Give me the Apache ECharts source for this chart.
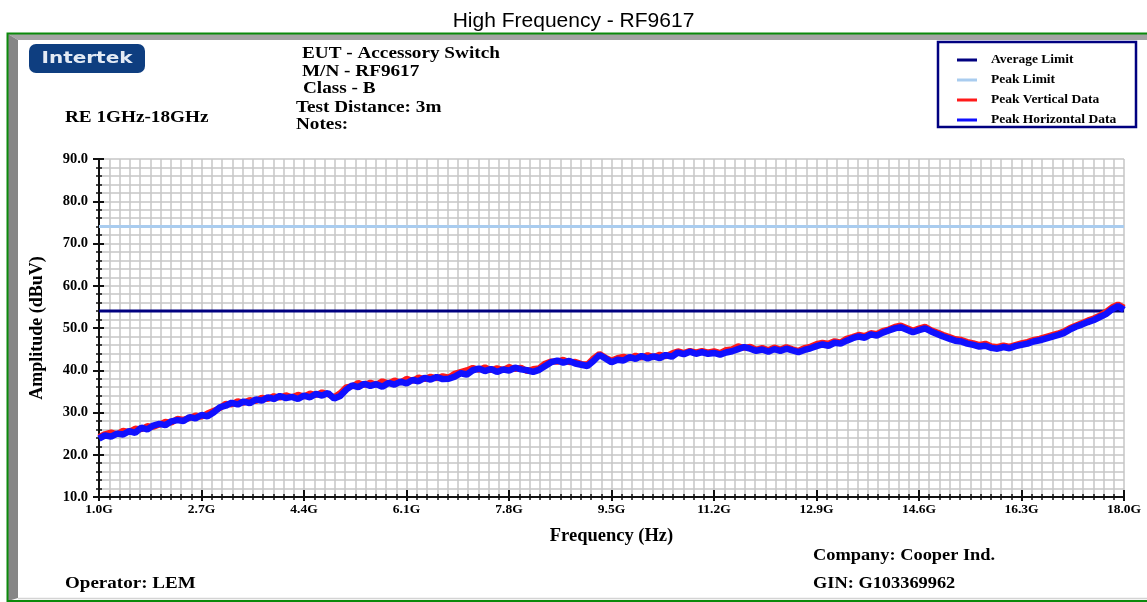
<!DOCTYPE html>
<html>
<head>
<meta charset="utf-8">
<title>High Frequency - RF9617</title>
<script src="https://cdn.jsdelivr.net/npm/echarts@6/dist/echarts.min.js"></script>
<style>
  html, body { margin: 0; padding: 0; background: #fff; }
  #chart { width: 1147px; height: 602px; }
</style>
</head>
<body>
<div id="chart"></div>
<script>
  // sweep: 1.0 GHz .. 18.0 GHz, one reading per 0.1 GHz
  const sweepStart = 1.0;
  const sweepStep = 0.1;

  // Peak Horizontal Data (dBuV)
  const peakHorizontal = [
    23.8, 24.6, 24.3, 25.0, 24.8, 25.6, 25.2, 26.4, 26.0, 26.9,
    27.3, 27.0, 27.9, 28.2, 28.0, 28.9, 28.6, 29.4, 29.1, 30.0,
    31.2, 31.6, 32.3, 31.9, 32.6, 32.2, 33.1, 32.8, 33.6, 33.2,
    33.9, 33.4, 33.7, 33.2, 34.0, 33.6, 34.4, 34.0, 34.6, 33.3,
    33.9, 35.4, 36.4, 36.0, 36.8, 36.3, 36.7, 36.1, 37.0, 36.6,
    37.3, 36.9, 37.7, 37.4, 38.2, 37.8, 38.4, 37.9, 38.0, 38.5,
    39.3, 39.0, 40.0, 40.4, 39.8, 40.3, 39.6, 40.2, 39.9, 40.6,
    40.2, 40.0, 39.6, 40.1, 41.0, 41.9, 42.3, 41.8, 42.2, 41.6,
    41.3, 41.0, 42.2, 43.6, 42.8, 41.9, 42.5, 42.3, 43.1, 42.7,
    43.4, 42.8, 43.3, 42.9, 43.6, 43.2, 44.2, 43.8, 44.4, 43.9,
    44.3, 43.9, 44.1, 43.7, 44.2, 44.5, 45.0, 45.5, 45.1, 44.6,
    44.9, 44.4, 45.0, 44.6, 45.1, 44.7, 44.3, 44.8, 45.2, 45.7,
    46.1, 45.8, 46.5, 46.3, 47.0, 47.6, 48.0, 47.7, 48.5, 48.2,
    48.9, 49.4, 49.9, 50.2, 49.6, 49.0, 49.5, 49.9, 49.2, 48.6,
    48.0, 47.5, 47.0, 46.8, 46.3, 46.0, 45.6, 45.8, 45.3, 45.1,
    45.5, 45.2, 45.7, 46.0, 46.3, 46.8, 47.1, 47.5, 47.9, 48.3,
    48.8, 49.6, 50.3, 50.8, 51.4, 51.9, 52.6, 53.3, 54.4, 55.2,
    54.3
  ];

  // Peak Vertical Data (dBuV)
  const peakVertical = [
    24.2, 24.9, 25.3, 24.9, 25.7, 25.4, 26.2, 26.0, 26.8, 26.6,
    27.1, 27.8, 27.6, 28.5, 28.3, 28.7, 29.3, 29.0, 29.8, 30.4,
    31.0, 32.1, 31.9, 32.7, 32.3, 33.0, 32.7, 33.5, 33.2, 33.9,
    33.5, 34.1, 33.6, 34.2, 33.8, 34.5, 34.1, 34.8, 34.3, 33.6,
    34.6, 36.0, 36.2, 37.0, 36.5, 37.1, 36.6, 37.4, 36.9, 37.6,
    37.1, 38.0, 37.5, 38.3, 37.9, 38.5, 38.1, 38.6, 38.3, 39.2,
    39.6, 40.0, 40.6, 40.1, 40.7, 40.0, 40.5, 40.1, 40.8, 40.3,
    40.6, 39.8, 40.3, 40.5, 41.6, 42.1, 42.0, 42.5, 41.9, 42.0,
    41.5, 41.4, 42.8, 43.9, 43.0, 42.3, 42.9, 43.2, 42.8, 43.5,
    43.0, 43.6, 43.1, 43.7, 43.3, 44.0, 44.5, 44.1, 44.6, 44.2,
    44.6, 44.2, 44.5, 44.1, 44.8, 45.0, 45.7, 45.3, 45.6, 44.9,
    45.3, 44.8, 45.4, 44.9, 45.5, 45.0, 44.6, 45.3, 45.6, 46.2,
    46.5, 46.3, 46.9, 46.6, 47.5, 47.9, 48.4, 48.1, 48.8, 48.6,
    49.3, 49.7, 50.3, 50.6, 50.0, 49.4, 49.9, 50.3, 49.5, 49.0,
    48.4, 47.9, 47.4, 47.2, 46.7, 46.4, 46.0, 46.3, 45.7, 45.5,
    45.9, 45.6, 46.0, 46.4, 46.7, 47.2, 47.5, 47.9, 48.3, 48.7,
    49.2, 50.0, 50.6, 51.2, 51.8, 52.3, 53.0, 53.8, 54.9, 55.6,
    54.8
  ];

  const averageLimit = 54;
  const peakLimit = 74;

  const freqTicks = ['1.0G', '2.7G', '4.4G', '6.1G', '7.8G', '9.5G', '11.2G', '12.9G', '14.6G', '16.3G', '18.0G'];

  // x axis runs in GHz above 1.0 so the 1.7 GHz interval starts at 0
  const toAxis = f => +(f - sweepStart).toFixed(2);
  const pairs = vals => vals.map((v, i) => [toAxis(sweepStart + i * sweepStep), v]);

  const SERIF = '"Liberation Serif", "DejaVu Serif", serif';
  const NAVY = '#000080';
  const GRID_COLOR = '#c6c6c6';

  const chart = echarts.init(document.getElementById('chart'), null, { renderer: 'canvas' });

  const xCommon = {
    type: 'value', min: 0, max: 17, interval: 1.7,
    axisLine: { show: true, onZero: false, lineStyle: { color: '#111', width: 2 } }
  };
  const yCommon = {
    type: 'value', min: 10, max: 90, interval: 10,
    axisLine: { show: true, onZero: false, lineStyle: { color: '#111', width: 2 } }
  };

  // the report text is a wide bold serif, so stretch it a little
  const label = (text, x, y, size, stretch) => ({
    type: 'text', x: x, y: y, scaleX: stretch,
    style: { text: text, fill: '#000', font: 'bold ' + size + 'px ' + SERIF, verticalAlign: 'middle' }
  });

  const option = {
    animation: false,
    backgroundColor: '#fff',
    title: {
      text: 'High Frequency - RF9617',
      left: 'center',
      top: 6,
      textStyle: { fontFamily: '"Liberation Sans", Arial, sans-serif', fontSize: 21, fontWeight: 'normal', color: '#000' }
    },
    legend: {
      orient: 'vertical',
      left: 952,
      top: 48,
      itemWidth: 20,
      itemHeight: 3,
      itemGap: 6,
      icon: 'rect',
      textStyle: { fontFamily: SERIF, fontWeight: 'bold', fontSize: 13.5, color: '#000', padding: [0, 0, 0, 9] },
      data: ['Average Limit', 'Peak Limit', 'Peak Vertical Data', 'Peak Horizontal Data']
    },
    grid: { left: 99, right: 23, top: 159, height: 338, outerBoundsMode: 'none' },
    xAxis: [
      Object.assign({}, xCommon, {
        name: 'Frequency (Hz)',
        nameLocation: 'middle',
        nameGap: 30,
        nameTextStyle: { fontFamily: SERIF, fontWeight: 'bold', fontSize: 18.5, color: '#000' },
        axisTick: { show: true, length: 4, lineStyle: { color: '#111', width: 2 } },
        minorTick: { show: true, splitNumber: 10, length: 3, lineStyle: { color: '#111', width: 1.5 } },
        axisLabel: {
          margin: 6,
          fontFamily: SERIF, fontWeight: 'bold', fontSize: 13.5, color: '#000',
          formatter: v => freqTicks[Math.round(v / 1.7)]
        },
        splitLine: { show: true, lineStyle: { color: GRID_COLOR, width: 1.5 } },
        minorSplitLine: { show: true, lineStyle: { color: GRID_COLOR, width: 1.5 } }
      }),
      // second copy so the ticks cross the axis line
      Object.assign({}, xCommon, {
        position: 'bottom',
        axisTick: { show: true, inside: true, length: 7, lineStyle: { color: '#111', width: 2 } },
        minorTick: { show: true, splitNumber: 10, length: 3, lineStyle: { color: '#111', width: 1.5 } },
        axisLabel: { show: false },
        splitLine: { show: false }
      })
    ],
    yAxis: [
      Object.assign({}, yCommon, {
        name: 'Amplitude (dBuV)',
        nameLocation: 'middle',
        nameGap: 53,
        nameTextStyle: { fontFamily: SERIF, fontWeight: 'bold', fontSize: 18, color: '#000' },
        axisTick: { show: true, length: 6, lineStyle: { color: '#111', width: 2 } },
        minorTick: { show: true, splitNumber: 5, length: 3, lineStyle: { color: '#111', width: 1.5 } },
        axisLabel: {
          margin: 11,
          fontFamily: SERIF, fontWeight: 'bold', fontSize: 14.5, color: '#000',
          formatter: v => v.toFixed(1)
        },
        splitLine: { show: true, lineStyle: { color: GRID_COLOR, width: 1.5 } },
        minorSplitLine: { show: true, lineStyle: { color: GRID_COLOR, width: 1.5 } }
      }),
      Object.assign({}, yCommon, {
        position: 'left',
        axisTick: { show: true, inside: true, length: 5, lineStyle: { color: '#111', width: 2 } },
        minorTick: { show: true, splitNumber: 5, length: 3, lineStyle: { color: '#111', width: 1.5 } },
        axisLabel: { show: false },
        splitLine: { show: false }
      })
    ],
    series: [
      {
        name: 'Average Limit', type: 'line', showSymbol: false, z: 3,
        color: NAVY, lineStyle: { color: NAVY, width: 3 },
        data: [[0, averageLimit], [17, averageLimit]]
      },
      {
        name: 'Peak Limit', type: 'line', showSymbol: false, z: 3,
        color: '#a9ccef', lineStyle: { color: '#a9ccef', width: 3 },
        data: [[0, peakLimit], [17, peakLimit]]
      },
      {
        name: 'Peak Vertical Data', type: 'line', showSymbol: false, z: 4,
        color: '#ff1a1a', lineStyle: { color: '#ff1a1a', width: 6 },
        data: pairs(peakVertical)
      },
      {
        name: 'Peak Horizontal Data', type: 'line', showSymbol: false, z: 5,
        color: '#1010ff', lineStyle: { color: '#1010ff', width: 6.5 },
        data: pairs(peakHorizontal)
      }
    ],
    graphic: [
      // report frame
      { type: 'polygon', z: -10, shape: { points: [[8, 34], [1147, 34], [1147, 40], [18, 40]] }, style: { fill: '#a4a4a4' } },
      { type: 'polygon', z: -10, shape: { points: [[8, 34], [18, 40], [18, 598], [8, 601]] }, style: { fill: '#868686' } },
      { type: 'line', z: -10, shape: { x1: 18, y1: 598.5, x2: 1147, y2: 598.5 }, style: { stroke: '#d4d4d4', lineWidth: 1.5 } },
      { type: 'polyline', z: -9, shape: { points: [[1147, 33.5], [7.5, 33.5], [7.5, 601], [1147, 601]] }, style: { fill: null, stroke: '#0b8a0b', lineWidth: 2 } },
      // logo
      { type: 'rect', z: -5, shape: { x: 29, y: 44, width: 116, height: 29, r: 7 }, style: { fill: '#0e3e80' } },
      { type: 'text', z: -4, x: 87, y: 59, scaleX: 1.25,
        style: { text: 'Intertek', fill: '#e4ebf5', font: 'bold 16px "DejaVu Sans", sans-serif', align: 'center', verticalAlign: 'middle' } },
      // header
      label('RE 1GHz-18GHz', 65, 118, 16, 1.2),
      label('EUT - Accessory Switch', 302, 54, 16, 1.2),
      label('M/N - RF9617', 302, 72, 16, 1.2),
      label('Class - B', 303, 89, 16, 1.2),
      label('Test Distance: 3m', 296, 108, 16, 1.2),
      label('Notes:', 296, 125, 16, 1.2),
      // legend box
      { type: 'rect', shape: { x: 938, y: 42, width: 198, height: 85 }, style: { fill: null, stroke: NAVY, lineWidth: 2.5 } },
      // footer
      label('Operator: LEM', 65, 584, 17, 1.12),
      label('Company: Cooper Ind.', 813, 556, 17, 1.08),
      label('GIN: G103369962', 813, 584, 17, 1.08)
    ]
  };

  chart.setOption(option);
  window.addEventListener('resize', () => chart.resize());
</script>
</body>
</html>
